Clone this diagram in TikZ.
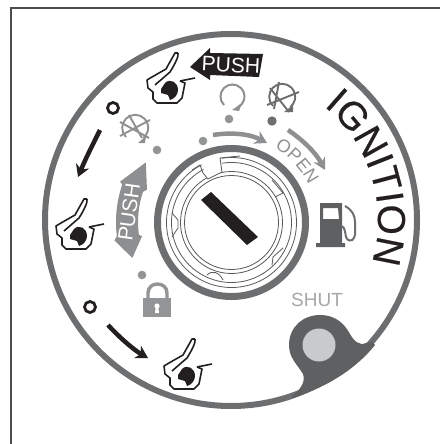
\documentclass[tikz,border=0pt]{standalone}
\usepackage{fontspec}
\setmainfont{Liberation Sans}
\newfontfamily\ignfont[FakeBold=0.4]{Liberation Sans}
\newfontfamily\openfont[LetterSpace=7]{Liberation Sans}
\usetikzlibrary{arrows.meta,decorations.text}
\definecolor{ringgrey}{HTML}{6D6E70}
\definecolor{blobgrey}{HTML}{5F6062}
\definecolor{midgrey}{HTML}{8E8F91}
\definecolor{dotgrey}{HTML}{939496}
\definecolor{inkblack}{HTML}{231F20}
\definecolor{lightgrey}{HTML}{C9CACC}
\tikzset{
  handicon/.pic={
    \draw[inkblack,line width=1.6pt,line join=round]
      (0,1) -- (-3,1) -- (-12,17) -- (-26,25) -- (-31,28) -- (-30,36) -- (-25,40) -- (-25,47) -- (-21,51) -- (-1,51) -- (4,46) -- (7,31) -- (2,29);
    \draw[inkblack,line width=1.6pt,line join=round]
      (0,1) .. controls (1,4) and (-3,12) .. (-8,20) -- (-23,33);
    \draw[inkblack,line width=1.6pt] (2,29) -- (17,26);
    \fill[inkblack] (-17,37) -- (-13,31) .. controls (-8,26) and (0,30) .. (0,38)
      .. controls (0,43) and (-4,47) .. (-8,48) -- (-10,43) -- (-17,41) -- cycle;
  },
  lockline/.style={draw=inkblack!75,line width=.8pt},
  dotmark/.style={fill=dotgrey},
  crossicon/.style={line width=1.9pt},
}
\begin{document}
\begin{tikzpicture}[x=1pt,y=-1pt]
\useasboundingbox (0,0) rectangle (440,444);
\draw[inkblack!80,line width=2.4pt] (11,444) -- (11,8) -- (440,8);

% Outer ring and shut lobe
\draw[ringgrey,line width=6pt] (231,220) circle[radius=186pt];
\fill[blobgrey] (292,396) .. controls (300,390) and (306,382) .. (303,374)
  .. controls (297,364) and (289,358) .. (289,345)
  .. controls (289,327) and (303,315) .. (320,315)
  .. controls (335,315) and (344,323) .. (350,334)
  .. controls (354,341) and (359,346) .. (366,343)
  -- (372,342) -- (375,345) .. controls (355,370) and (325,388) .. (292,398) -- cycle;
\fill[lightgrey] (319,345) circle[radius=16.5pt];
\node[text=gray!70,font=\fontsize{19}{19}\selectfont,anchor=center] (shut) at (317,299.5) {SHUT};

% Lock cylinder
\draw[ringgrey,line width=7pt] (231.5,222.5) circle[radius=74pt];
\foreach \r in {65,60,51,47} \draw[lockline] (231.5,222.5) circle[radius=\r pt];
\fill[white] (200,160) -- (222,156) -- (222,172) -- (207,179) -- cycle;
\draw[lockline] (200,165) -- (203,173) -- (208,179) -- (222,172) -- (220,158) -- (240,156);
\draw[lockline] (192,170) -- (200,165);
\draw[lockline] (172,213) -- (178,220) -- (178,228) -- (172,237);
\draw[lockline] (272,180) -- (283,193) -- (275,197);
\draw[lockline] (283,248) -- (273,257) -- (272,265);
\draw[lockline] (207,275) .. controls (212,270) and (219,272) .. (223,280);
\fill[inkblack] (201,200) -- (211,192) -- (258,237) -- (247,245) -- cycle;

% IGNITION
\path[postaction={decorate,decoration={text along path,text align=center,
  text={|\ignfont\fontsize{39}{39}\selectfont\color{inkblack}|IGNITION}}}]
  (231,220) ++(48:147pt) arc[start angle=48,end angle=-14,radius=147pt];

% OPEN
\path[postaction={decorate,decoration={text along path,text align=center,
  text={|\openfont\fontsize{18}{18}\selectfont\color{midgrey}|OPEN}}}]
  (231.5,222.5) ++(68:86pt) arc[start angle=68,end angle=18,radius=86pt];

% Dots
\foreach \p in {(157,150),(203,141),(229,119),(142,275)} \fill[dotmark] \p circle[radius=4.3pt];
\fill[ringgrey] (272,121) circle[radius=4.7pt];
\draw[inkblack,line width=2.8pt] (113,108) circle[radius=5.5pt];
\draw[inkblack,line width=2.8pt] (90,307) circle[radius=5.5pt];

% Arrows
\draw[inkblack,line width=4.5pt,-{Stealth[length=12pt,width=14pt]}] (100,130) .. controls (92,146) and (85,160) .. (78,177);
\draw[inkblack,line width=4.5pt,-{Stealth[length=12pt,width=14pt]}] (108,325) .. controls (120,338) and (134,350) .. (148,358);
\draw[midgrey,line width=4.5pt,-{Stealth[length=12pt,width=14pt]}] (213,135) .. controls (232,132) and (250,134) .. (267,143);
\draw[midgrey,line width=4.5pt,-{Stealth[length=12pt,width=13pt]}] (288,130) .. controls (303,140) and (316,153) .. (325,170);

% Black PUSH flag
\fill[inkblack] (190,67) -- (210,48) -- (210,53) -- (263,54) -- (259,77) -- (210,75) -- (210,80) -- cycle;
\node[text=white,font=\fontsize{21}{21}\selectfont,rotate=-3] (pushtop) at (231,65) {PUSH};

% Grey PUSH double arrow
\begin{scope}[shift={(231,222)}]
\fill[midgrey] (145:104pt) -- (159:90pt) -- (161:93pt)
  arc[start angle=161,end angle=188,radius=93pt] -- (189:90pt) -- (200:105pt) -- (189:118pt) -- (187:115pt)
  arc[start angle=187,end angle=161,radius=115pt] -- (160:118pt) -- cycle;
\end{scope}
\node[text=white,font=\fontsize{21}{21}\selectfont,rotate=82] (pushside) at (129,212) {PUSH};

% Padlock
\draw[dotgrey,line width=3.4pt] (148,299) -- (148,293) .. controls (148,281) and (167,281) .. (167,293) -- (167,299);
\fill[dotgrey] (143,298) rectangle (171,317);
\fill[white] (157,306) circle[radius=2.6pt];
\fill[white] (155.8,306) -- (158.2,306) -- (159,313) -- (155,313) -- cycle;

% Fuel pump
\fill[blobgrey,even odd rule] (320,203) -- (342,203) -- (342,243) -- (345,243) -- (345,247) -- (316,247) -- (316,243) -- (320,243) -- cycle
  (323,208) -- (338,208) -- (339,219) -- (323,219) -- cycle;
\draw[ringgrey,line width=2pt] (345,206) .. controls (352,210) and (355,215) .. (355,222)
  .. controls (355,228) and (356,234) .. (354,238) .. controls (352,242) and (347,241) .. (346,237)
  .. controls (345,232) and (345,228) .. (342,226);

% Rotation icons
\draw[midgrey,line width=2pt] (224,105) arc[start angle=225,end angle=-60,radius=12pt];
\fill[midgrey] (232,110) -- (242,103) -- (239,111) -- cycle;

\begin{scope}[shift={(135,128)}]
\draw[midgrey,crossicon] (-9,9) arc[start angle=225,end angle=-50,radius=13pt];
\draw[midgrey,crossicon] (-15,-6) -- (14,10) (-15,8) -- (15,-8) (-6,-13) -- (7,10);
\fill[midgrey] (3,15) -- (11,8) -- (10,15) -- cycle;
\end{scope}
\begin{scope}[shift={(282,97)}]
\draw[ringgrey,crossicon] (-9,9) arc[start angle=225,end angle=-50,radius=13pt];
\draw[ringgrey,crossicon] (-15,8) -- (17,-5) (-12,-9) -- (7,15) (-3,-15) -- (-8,12) ;
\fill[ringgrey] (2,15) -- (11,8) -- (11,15) -- cycle;
\end{scope}

% Key icons
\pic at (178,52) {handicon};
\pic at (87,198) {handicon};
\pic at (195,338) {handicon};
\end{tikzpicture}
\end{document}
